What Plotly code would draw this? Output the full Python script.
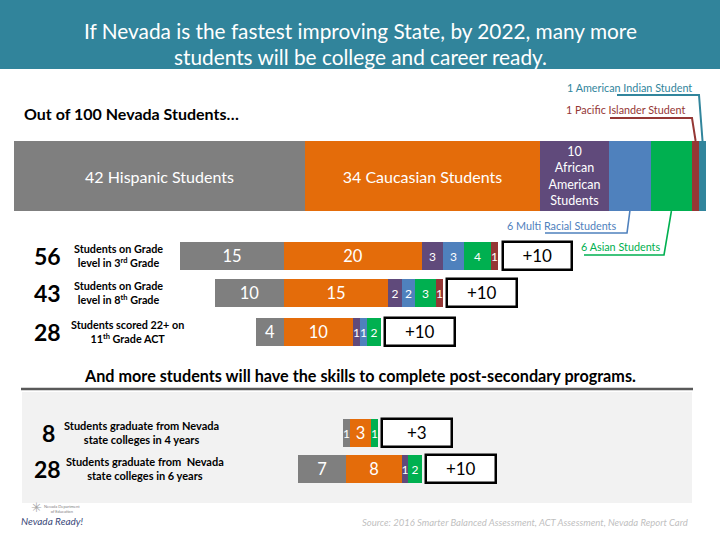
import plotly.graph_objects as go

W, H = 720, 540
FONT = "Lato"

# ---------------- data ----------------
groups = ["Hispanic", "Caucasian", "African American", "Multi-Racial",
          "Asian", "Pacific Islander", "American Indian"]
colors = ["#7F7F7F", "#E46C0A", "#604A7B", "#4F81BD", "#00B050", "#953735", "#31859C"]
population = [42, 34, 10, 6, 6, 1, 1]
population_labels = ["42 Hispanic Students", "34 Caucasian Students",
                     "10<br>African<br>American<br>Students", "", "", "", ""]

row_totals = ["56", "43", "28", "8", "28"]
row_desc = [
    "Students on Grade<br>level in 3<sup>rd</sup> Grade",
    "Students on Grade<br>level in 8<sup>th</sup> Grade",
    "Students scored 22+ on<br>11<sup>th</sup> Grade ACT",
    "Students graduate from Nevada<br>state colleges in 4 years",
    "Students graduate from  Nevada<br>state colleges in 6 years",
]
grade3 = [15, 20, 3, 3, 4, 1, 0]
grade8 = [10, 15, 2, 2, 3, 1, 0]
act22 = [4, 10, 1, 1, 2, 0, 0]
grad4yr = [1, 3, 0, 0, 1, 0, 0]
grad6yr = [7, 8, 1, 0, 2, 0, 0]
gains = [10, 10, 10, 3, 10]
rows = [grade3, grade8, act22, grad4yr, grad6yr]

callout_labels = ["1 American Indian Student", "1 Pacific Islander Student",
                  "6 Multi Racial Students", "6 Asian Students"]

title_lines = ["If Nevada is the fastest improving State, by 2022, many more",
               "students will be college and career ready."]
heading = "Out of 100 Nevada Students…"
subheading = "And more students will have the skills to complete post-secondary programs."
source = "Source: 2016 Smarter Balanced Assessment, ACT Assessment, Nevada Report Card"

# ---------------- layout constants ----------------
X0_PX, PX_PER_UNIT = 14, 6.92
def u(px):
    return (px - X0_PX) / PX_PER_UNIT

TOP_Y, TOP_H = 176, 70
row_y = [256, 293, 332, 433, 469]
row_anchor = [39.0, 39.0, 39.0, 48.6, 48.0]
ROW_H = 28
BOX_W = 10.1
BOX_GAP = 0.6

fig = go.Figure()

# top 100-student bar: one trace per group
top_bases = []
acc = 0
for v in population:
    top_bases.append(acc)
    acc += v

for gi, g in enumerate(groups):
    kw = {}
    if population_labels[gi]:
        kw = dict(text=[population_labels[gi]], textposition="inside",
                  insidetextanchor="middle", textangle=0, constraintext="none",
                  textfont=dict(color="white", size=16 if gi < 2 else 12.5, family=FONT))
    fig.add_trace(go.Bar(
        orientation="h", x=[population[gi]], base=[top_bases[gi]], y=[TOP_Y],
        width=[TOP_H], marker=dict(color=colors[gi], line=dict(width=0)),
        hoverinfo="skip", name=g, **kw))

# row segments, one trace per group (zero values skipped)
for gi, g in enumerate(groups):
    xs, bases, ys, texts, sizes = [], [], [], [], []
    for ri, r in enumerate(rows):
        v = r[gi]
        if v <= 0:
            continue
        a = row_anchor[ri]
        b = a - v if gi == 0 else a + sum(r[1:gi])
        xs.append(v); bases.append(b); ys.append(row_y[ri])
        texts.append(str(v))
        sizes.append(16.5 if (gi < 2 and v > 1) else 12)
    if not xs:
        continue
    fig.add_trace(go.Bar(
        orientation="h", x=xs, base=bases, y=ys, width=[ROW_H] * len(xs),
        marker=dict(color=colors[gi], line=dict(width=0)),
        text=texts, textposition="inside", insidetextanchor="middle",
        textangle=0, constraintext="none",
        textfont=dict(color="white", size=sizes, family=FONT),
        hoverinfo="skip", name=g,
    ))

# gain boxes
box_bases = [row_anchor[ri] + sum(r[1:]) + BOX_GAP for ri, r in enumerate(rows)]
fig.add_trace(go.Bar(
    orientation="h", x=[BOX_W] * len(gains), base=box_bases, y=row_y,
    width=[ROW_H] * len(gains),
    marker=dict(color="white", line=dict(color="black", width=2.5)),
    text=["+%d" % g for g in gains], textposition="inside",
    insidetextanchor="middle", textangle=0, constraintext="none",
    textfont=dict(color="black", size=17, family=FONT),
    hoverinfo="skip", name="gain",
))

shapes = []
# title band
shapes.append(dict(type="rect", xref="paper", yref="y", x0=0, x1=1, y0=0, y1=69,
                   fillcolor="#31849B", line=dict(width=0), layer="below"))
# grey panel and rule
shapes.append(dict(type="rect", xref="x", yref="y", x0=u(22), x1=u(692), y0=392, y1=503,
                   fillcolor="#F2F2F2", line=dict(width=0), layer="below"))
shapes.append(dict(type="line", xref="x", yref="y", x0=u(21), x1=u(693), y0=389, y1=389,
                   line=dict(color="#595959", width=2.5)))

# callout leader lines (to centre of segments)
def seg_center(i):
    return top_bases[i] + population[i] / 2

top_edge = TOP_Y - TOP_H / 2
bot_edge = TOP_Y + TOP_H / 2
callouts = [
    # (group index, text right px, text y px, line start px, corner px, line y px, bar edge y)
    (6, 694, 87, 617, 699, 95, top_edge),
    (5, 687, 109, 610, 692, 118, top_edge),
    (3, 618, 225, 545, 627, 233, bot_edge),
    (4, 662, 246, 584, 664, 255, bot_edge),
]
for gi, tx, ty, lx0, lx1, ly, ey in callouts:
    cx = seg_center(gi)
    shapes.append(dict(type="path", xref="x", yref="y",
                       path="M %f,%f L %f,%f L %f,%f" % (u(lx0), ly, u(lx1), ly, cx, ey),
                       line=dict(color=colors[gi], width=2 if gi >= 5 else 1.6)))

annotations = []
def ann(xpx, ypx, text, size, color="black", xanchor="center", bold=False,
        italic=False, family=FONT, align="center"):
    if bold:
        text = "<b>%s</b>" % text
    if italic:
        text = "<i>%s</i>" % text
    annotations.append(dict(xref="x", yref="y", x=u(xpx), y=ypx, text=text,
                            showarrow=False, xanchor=xanchor, yanchor="middle",
                            align=align,
                            font=dict(size=size, color=color, family=family)))

ann(360, 30, title_lines[0], 20.8, "white")
ann(360, 56, title_lines[1], 20.8, "white")
ann(22, 113, heading, 16, bold=True, xanchor="left")

for i, (gi, tx, ty, *_r) in enumerate(callouts):
    ann(tx, ty, callout_labels[i], 10.8, colors[gi], xanchor="right")

num_x = [47, 47, 47, 48, 47]
desc_x = [118, 118, 127, 141, 145]
for ri in range(len(rows)):
    ann(num_x[ri], row_y[ri], row_totals[ri], 23, bold=True)
    ann(desc_x[ri], row_y[ri] - 1, row_desc[ri], 10.8 if ri < 3 else 11, bold=True)

ann(360, 375, subheading, 16.2, bold=True)
ann(690, 522, source, 9.5, "#BFBFBF", xanchor="right", italic=True)

# logo (text approximation)
ann(36, 507, "✳", 13, "#A6A6A6")
ann(62, 509, "Nevada Department<br>of Education", 4, "#7F7F7F")
ann(52, 521, "Nevada Ready!", 10, "#3B4A7A", italic=True)

fig.update_layout(
    width=W, height=H, autosize=False,
    margin=dict(l=0, r=0, t=0, b=0, pad=0),
    paper_bgcolor="white", plot_bgcolor="white",
    barmode="overlay", bargap=0,
    showlegend=False,
    xaxis=dict(range=[u(0), u(W)], visible=False, fixedrange=True),
    yaxis=dict(range=[H, 0], visible=False, fixedrange=True),
    shapes=shapes, annotations=annotations,
    font=dict(family=FONT),
)

fig.write_html("out.html", config={"displayModeBar": False},
               post_script="document.body.style.margin='0';document.body.style.overflow='hidden';")
